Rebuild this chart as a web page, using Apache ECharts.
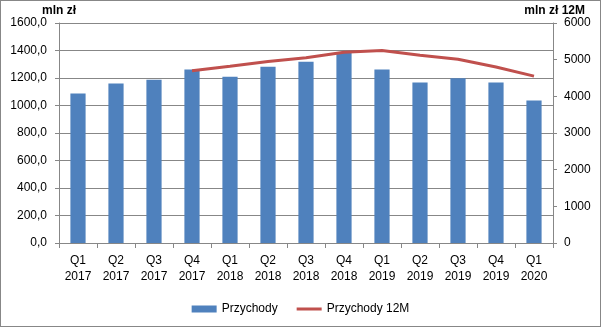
<!DOCTYPE html>
<html>
<head>
<meta charset="utf-8">
<script src="https://cdn.jsdelivr.net/npm/echarts@6/dist/echarts.min.js"></script>
<style>
html,body{margin:0;padding:0;background:#fff;}
#c{width:601px;height:327px;box-sizing:border-box;border:1px solid #878787;}
</style>
</head>
<body>
<div id="c"></div>
<script>
const categories = ['Q1\n2017','Q2\n2017','Q3\n2017','Q4\n2017','Q1\n2018','Q2\n2018','Q3\n2018','Q4\n2018','Q1\n2019','Q2\n2019','Q3\n2019','Q4\n2019','Q1\n2020'];
const przychody = [1087,1160,1188,1261,1210,1282,1318,1386,1261,1167,1198,1167,1037];
const przychody12M = ['-','-','-',4700,4820,4950,5050,5200,5250,5120,5010,4800,4550];
const leftTicks = {min:0,max:1600,interval:200};
const rightTicks = {min:0,max:6000,interval:1000};

const chart = echarts.init(document.getElementById('c'));
const font = 'Liberation Sans';
chart.setOption({
  animation:false,
  textStyle:{fontFamily:font},
  grid:{left:58,right:47,top:22,bottom:83,containLabel:false},
  legend:{
    bottom:6,left:'center',itemWidth:25,itemHeight:7,itemGap:19,
    textStyle:{fontFamily:font,fontSize:12,color:'#000'},
    data:[{name:'Przychody',icon:'rect'},{name:'Przychody 12M',icon:'path://M0,2 L25,2 L25,5 L0,5 Z M0,0 L0.01,0 M0,7 L0.01,7'}]
  },
  xAxis:{
    type:'category',data:categories,
    axisLine:{lineStyle:{color:'#878787'}},
    axisTick:{show:true,length:5,alignWithLabel:false,lineStyle:{color:'#878787'}},
    axisLabel:{color:'#000',fontSize:12,lineHeight:16,margin:10,fontFamily:font,interval:0}
  },
  yAxis:[{
    type:'value',min:leftTicks.min,max:leftTicks.max,interval:leftTicks.interval,
    name:'mln zł',nameLocation:'end',nameGap:4,
    nameTextStyle:{fontWeight:'bold',fontSize:12,color:'#000',align:'left',padding:[0,0,0,-17]},
    axisLine:{show:true,lineStyle:{color:'#878787'}},
    axisTick:{show:true,length:4,lineStyle:{color:'#878787'}},
    splitLine:{lineStyle:{color:'#878787'}},
    axisLabel:{color:'#000',fontSize:12,margin:12,formatter:v=>v.toFixed(1).replace('.',',')}
  },{
    type:'value',min:rightTicks.min,max:rightTicks.max,interval:rightTicks.interval,
    name:'mln zł 12M',nameLocation:'end',nameGap:4,
    nameTextStyle:{fontWeight:'bold',fontSize:12,color:'#000',align:'right',padding:[0,-32,0,0]},
    axisLine:{show:true,lineStyle:{color:'#878787'}},
    axisTick:{show:true,length:4,lineStyle:{color:'#878787'}},
    splitLine:{show:false},
    axisLabel:{color:'#000',fontSize:12,margin:11,formatter:v=>String(v)}
  }],
  series:[{
    name:'Przychody',type:'bar',data:przychody,barWidth:'40%',
    itemStyle:{color:'#4F81BD'}
  },{
    name:'Przychody 12M',type:'line',yAxisIndex:1,data:przychody12M,
    symbol:'none',lineStyle:{color:'#C0504D',width:3},itemStyle:{color:'#C0504D'}
  }]
});
</script>
</body>
</html>
